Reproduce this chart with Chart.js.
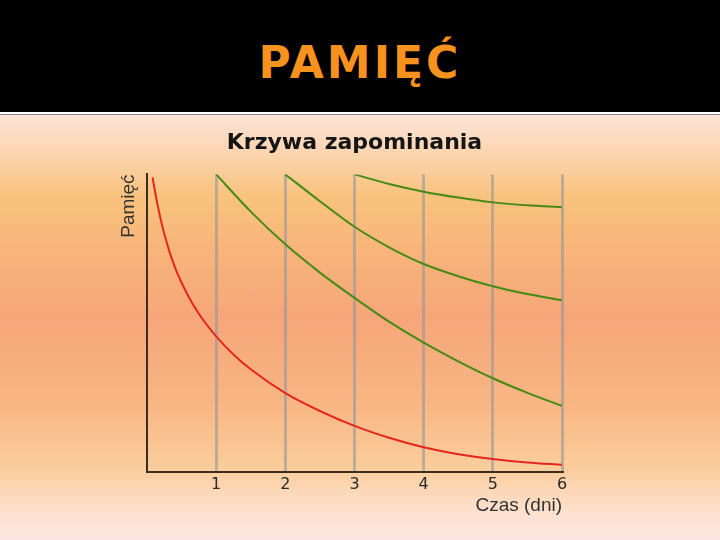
<!DOCTYPE html>
<html>
<head>
<meta charset="utf-8">
<script src="https://cdn.jsdelivr.net/npm/chart.js@4"></script>
<style>
  body { margin: 0; width: 720px; height: 540px; overflow: hidden; background: #000; }
  #header {
    position: absolute; left: 0; top: 0; width: 720px; height: 112px; background: #000;
    color: #f8921e; font: bold 44px "DejaVu Sans", sans-serif; letter-spacing: 3px;
    text-align: center; line-height: 126px;
  }
  #rule { position: absolute; left: 0; top: 112px; width: 720px; height: 2px; background: #fff; border-bottom: 1px solid #8a8280; }
  #wrap {
    position: absolute; left: 0; top: 115px; width: 720px; height: 425px;
    background: linear-gradient(to bottom, #fde4d8 0%, #fcd6b4 8%, #f9c37e 19%, #f8b47a 32%, #f6a67a 48%, #f8b684 68%, #fbcd9c 83%, #fde0cc 93%, #fde6e4 100%);
  }
</style>
</head>
<body>
<div id="header">PAMIĘĆ</div>
<div id="rule"></div>
<div id="wrap"><canvas id="zapominanie" width="720" height="425"></canvas></div>
<script>
// dni od nauki i poziom pamięci (%)
const xTickLabels = ['', '1', '2', '3', '4', '5', '6'];

const redDays = [0.08, 0.15, 0.25, 0.4, 0.6, 0.8, 1, 1.25, 1.5, 2, 2.5, 3, 3.5, 4, 4.5, 5, 5.5, 6];
const redMemory = [99, 90, 80, 69, 59, 51.5, 45.6, 39.5, 34.5, 26.5, 20.5, 15.5, 11.5, 8.3, 6, 4.4, 3.2, 2.4];

const green1Days = [1, 1.5, 2, 2.5, 3, 3.5, 4, 4.5, 5, 5.5, 6];
const green1Memory = [100, 87.5, 76.5, 67, 58.5, 50.5, 43.5, 37.2, 31.5, 26.6, 22.2];

const green2Days = [2, 2.5, 3, 3.5, 4, 4.5, 5, 5.5, 6];
const green2Memory = [100, 91, 82.4, 75.5, 69.9, 65.8, 62.4, 59.8, 57.7];

const green3Days = [3, 3.5, 4, 4.5, 5, 5.5, 6];
const green3Memory = [100, 96.8, 94.2, 92.2, 90.6, 89.6, 89];

const toPoints = (xs, ys) => xs.map((x, i) => ({ x: x, y: ys[i] }));

const curve = (label, xs, ys, color) => ({
  label: label,
  data: toPoints(xs, ys),
  borderColor: color,
  borderWidth: 2,
  pointRadius: 0,
  cubicInterpolationMode: 'monotone',
  fill: false
});

const ctx = document.getElementById('zapominanie').getContext('2d');
const chart = new Chart(ctx, {
  type: 'line',
  data: {
    datasets: [
      curve('bez powtórek', redDays, redMemory, '#e5261c'),
      curve('powtórka 1', green1Days, green1Memory, '#468a14'),
      curve('powtórka 2', green2Days, green2Memory, '#468a14'),
      curve('powtórka 3', green3Days, green3Memory, '#468a14')
    ]
  },
  options: {
    responsive: false,
    animation: false,
    layout: { padding: { left: 113, right: 158, top: 0, bottom: 23 } },
    plugins: {
      legend: { display: false },
      tooltip: { enabled: false },
      title: {
        display: true,
        text: 'Krzywa zapominania',
        fullSize: false,
        color: '#151515',
        font: { family: 'DejaVu Sans', size: 22, weight: 'bold' },
        padding: { top: 15, bottom: 18 }
      }
    },
    scales: {
      x: {
        type: 'linear',
        min: 0,
        max: 6,
        afterFit: s => { s.height = 45; },
        ticks: {
          stepSize: 1,
          padding: 3,
          color: '#2a2a2a',
          font: { family: 'DejaVu Sans', size: 16 },
          callback: v => xTickLabels[v]
        },
        grid: {
          drawTicks: false,
          lineWidth: 3,
          color: c => c.tick && c.tick.value === 0 ? 'rgba(0,0,0,0)' : 'rgba(150,150,150,0.6)'
        },
        border: { display: true, color: '#3b2c1e', width: 2 },
        title: {
          display: true,
          text: 'Czas (dni)',
          align: 'end',
          color: '#333',
          font: { family: 'Liberation Sans', size: 19 },
          padding: { top: 4, bottom: 0 }
        }
      },
      y: {
        min: 0,
        max: 100,
        afterFit: s => { s.width = 34; },
        ticks: { display: false },
        grid: { display: false },
        border: { display: true, color: '#3b2c1e', width: 2 },
        title: {
          display: true,
          text: 'Pamięć',
          align: 'end',
          color: '#333',
          font: { family: 'Liberation Sans', size: 19 },
          padding: { top: 4, bottom: 0 }
        }
      }
    }
  }
});
</script>
</body>
</html>
